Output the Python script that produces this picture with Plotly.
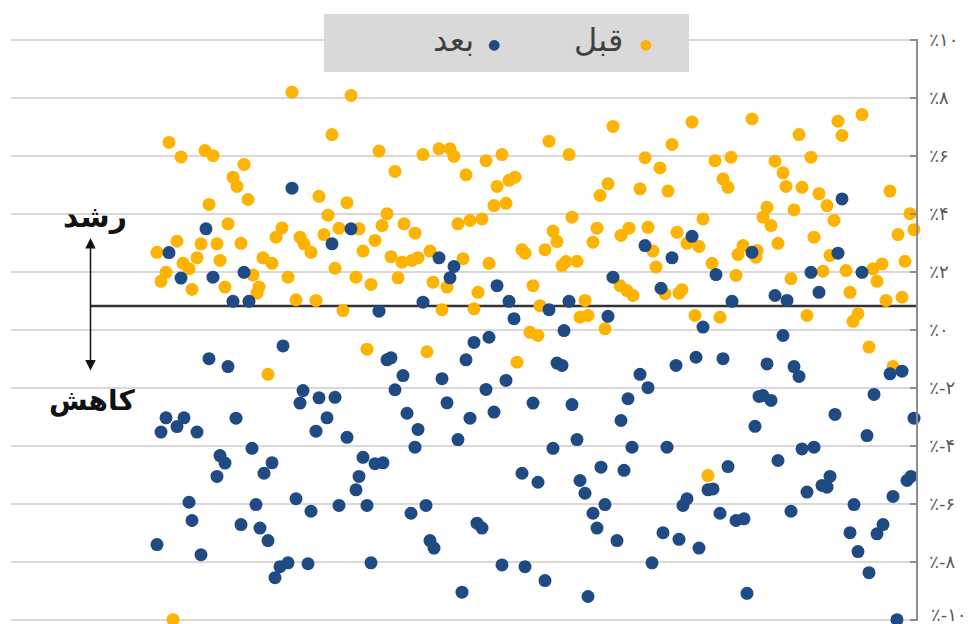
import plotly.graph_objects as go

# ---------------- data ----------------
# "قبل" (before) series: x position (observation), y value in percent
before_x = [
    292, 351, 332, 169, 181, 205, 213, 244, 233, 237, 248, 209, 379, 395, 319, 347, 328, 387, 382, 404,
    228, 282, 276, 339, 359, 324, 300, 304, 311, 375, 363, 391, 402, 177, 201, 217, 241, 157, 197, 183,
    189, 220, 263, 272, 166, 161, 192, 225, 253, 259, 257, 288, 335, 356, 371, 398, 296, 316, 343, 367,
    423, 439, 450, 454, 466, 486, 502, 497, 509, 515, 494, 506, 549, 569, 613, 645, 660, 608, 600, 640,
    415, 458, 470, 482, 572, 553, 557, 545, 522, 525, 597, 593, 621, 629, 648, 653, 656, 412, 418, 430,
    463, 489, 562, 566, 577, 433, 447, 478, 533, 620, 627, 633, 442, 474, 540, 585, 580, 588, 605, 530,
    538, 427,
    692, 752, 672, 799, 838, 862, 842, 715, 731, 775, 811, 723, 728, 783, 786, 802, 819, 827, 668, 890,
    703, 767, 763, 771, 794, 834, 910, 914, 898, 814, 778, 677, 687, 699, 743, 738, 757, 756, 712, 736,
    830, 823, 846, 873, 882, 877, 905, 791, 850, 665, 682, 679, 886, 902, 695, 720, 807, 858, 853, 869,
    268, 173, 517, 708, 893,
]
before_y = [
    8.20, 8.09, 6.74, 6.47, 5.97, 6.19, 6.01, 5.71, 5.27, 4.95, 4.50, 4.33, 6.17, 5.47, 4.61, 4.39, 3.96, 4.01, 3.60, 3.66,
    3.66, 3.52, 3.20, 3.51, 3.49, 3.29, 3.20, 2.97, 2.68, 3.09, 2.72, 2.53, 2.34, 3.06, 2.97, 2.97, 2.99, 2.68, 2.49, 2.30,
    2.11, 2.40, 2.49, 2.30, 1.99, 1.68, 1.40, 1.48, 1.90, 1.48, 1.27, 1.82, 2.13, 1.82, 1.57, 1.80, 1.04, 1.02, 0.67, -0.66,
    6.05, 6.25, 6.25, 5.99, 5.35, 5.84, 6.05, 4.95, 5.16, 5.27, 4.29, 4.37, 6.51, 6.05, 7.02, 5.94, 5.59, 5.04, 4.64, 4.87,
    3.34, 3.66, 3.78, 3.83, 3.89, 3.41, 3.05, 2.77, 2.77, 2.65, 3.51, 3.03, 3.26, 3.51, 3.54, 2.72, 2.17, 2.40, 2.49, 2.72,
    2.46, 2.30, 2.22, 2.36, 2.37, 1.65, 1.48, 1.30, 1.53, 1.53, 1.36, 1.19, 0.70, 0.73, 0.84, 1.02, 0.44, 0.50, 0.04, -0.08,
    -0.19, -0.75,
    7.17, 7.28, 6.40, 6.74, 7.20, 7.43, 6.71, 5.84, 5.96, 5.82, 5.96, 5.21, 4.92, 5.42, 4.95, 4.92, 4.70, 4.29, 4.79, 4.79,
    3.83, 4.23, 3.89, 3.60, 4.14, 3.78, 4.01, 3.46, 3.29, 3.20, 2.99, 3.37, 2.99, 2.88, 2.91, 2.60, 2.74, 2.51, 2.30, 1.88,
    2.57, 2.03, 2.05, 2.11, 2.28, 1.68, 2.37, 1.77, 1.30, 1.25, 1.39, 1.27, 1.02, 1.13, 0.50, 0.44, 0.50, 0.56, 0.30, -0.59,
    -1.53, -9.99, -1.11, -5.02, -1.26,
]

# "بعد" (after) series
after_x = [
    292, 206, 169, 332, 351, 181, 213, 244, 233, 249, 379, 283,
    439, 454, 450, 497, 423, 509, 549, 569, 514, 608, 645, 613, 661, 564, 474, 489,
    842, 692, 672, 752, 838, 716, 811, 862, 819, 732, 775, 787, 703, 783,
    209, 228, 387, 391, 395, 303, 300, 319, 335, 327, 316, 347, 236, 166, 184, 177, 161, 197, 252, 220,
    225, 217, 272, 264, 363, 375, 383, 359, 356, 189, 192, 157, 201, 241, 256, 260, 268, 296, 311, 339,
    367, 280, 288, 275, 308, 371,
    466, 403, 442, 486, 506, 557, 562, 447, 407, 470, 494, 533, 572, 640, 648, 628, 621, 418, 415, 458,
    553, 577, 632, 667, 522, 538, 580, 585, 601, 624, 605, 593, 597, 617, 411, 426, 477, 482, 430, 434,
    502, 525, 545, 462, 588, 652, 663,
    676, 696, 723, 767, 794, 799, 890, 902, 874, 759, 763, 771, 835, 914, 755, 867, 802, 814, 778, 728,
    708, 713, 687, 683, 807, 822, 830, 827, 907, 911, 893, 854, 720, 736, 744, 791, 679, 699, 850, 877,
    883, 858, 869, 747, 897,
]
after_y = [
    4.89, 3.49, 2.67, 2.97, 3.49, 1.79, 1.82, 1.99, 0.99, 0.99, 0.65, -0.55,
    2.49, 2.19, 1.80, 1.53, 0.96, 0.99, 0.70, 0.99, 0.39, 0.47, 2.91, 1.82, 1.44, -0.02, -0.43, -0.25,
    4.52, 3.23, 2.49, 2.68, 2.65, 1.91, 1.99, 1.99, 1.30, 0.99, 1.19, 1.02, 0.10, -0.19,
    -0.99, -1.26, -1.03, -0.96, -2.06, -2.09, -2.52, -2.34, -2.32, -3.03, -3.49, -3.70, -3.04, -3.03, -3.03, -3.33, -3.52, -3.52, -4.08, -4.33,
    -4.59, -5.05, -4.58, -4.94, -4.39, -4.61, -4.58, -5.05, -5.51, -5.94, -6.57, -7.40, -7.75, -6.71, -6.02, -6.83, -7.26, -5.82, -6.25, -6.05,
    -6.05, -8.16, -8.03, -8.54, -8.06, -8.03,
    -1.03, -1.57, -1.68, -2.05, -1.74, -1.14, -1.22, -2.51, -2.87, -3.04, -2.83, -2.52, -2.57, -1.53, -1.99, -2.37, -3.12, -3.43, -4.04, -3.78,
    -4.08, -3.78, -4.04, -4.04, -4.94, -5.25, -5.19, -5.63, -4.73, -4.84, -6.02, -6.32, -6.83, -7.26, -6.32, -6.05, -6.66, -6.83, -7.26, -7.52,
    -8.10, -8.16, -8.64, -9.04, -9.19, -8.03, -6.99,
    -1.22, -0.94, -0.99, -1.17, -1.26, -1.60, -1.51, -1.42, -2.22, -2.29, -2.26, -2.43, -2.91, -3.04, -3.32, -3.64, -4.10, -4.04, -4.50, -4.71,
    -5.51, -5.48, -5.82, -6.05, -5.59, -5.36, -5.05, -5.42, -5.19, -5.05, -5.74, -6.02, -6.32, -6.57, -6.51, -6.25, -7.22, -7.52, -6.99, -7.03,
    -6.71, -7.64, -8.37, -9.08, -9.99,
]

series_names = ["قبل", "بعد"]
tick_values = [10, 8, 6, 4, 2, 0, -2, -4, -6, -8, -10]
tick_labels = ["٪۱۰", "٪۸", "٪۶", "٪۴", "٪۲", "٪۰", "٪-۲", "٪-۴", "٪-۶", "٪-۸", "٪-۱۰"]
reference_level = 0.83          # the black reference line
label_up = "رشد"
label_down = "کاهش"

# ---------------- style ----------------
ORANGE = "#FDB300"
BLUE = "#1F4A84"
W, H = 973, 624
ML, MR, MT, MB = 11, 57, 39, 3
PW = W - ML - MR
PH = H - MT - MB
TICK_FONT = dict(family="DejaVu Sans, Noto Sans, sans-serif", size=18, color="#595959")

def px_to_paper_x(px):
    return (px - ML) / PW

def px_to_paper_y(py):
    return 1 - (py - MT) / PH

fig = go.Figure()
fig.add_trace(go.Scatter(
    x=before_x, y=before_y, mode="markers", name=series_names[0],
    marker=dict(color=ORANGE, size=13, line=dict(width=0)),
    cliponaxis=False, showlegend=False,
))
fig.add_trace(go.Scatter(
    x=after_x, y=after_y, mode="markers", name=series_names[1],
    marker=dict(color=BLUE, size=13, line=dict(width=0)),
    cliponaxis=False, showlegend=False,
))

# reference line
fig.add_shape(type="line", xref="paper", yref="y",
              x0=px_to_paper_x(90), x1=1, y0=reference_level, y1=reference_level,
              line=dict(color="#333333", width=2.5), layer="below")

# legend box (custom, right-to-left)
fig.add_shape(type="rect", xref="paper", yref="paper",
              x0=px_to_paper_x(324), x1=px_to_paper_x(689),
              y0=px_to_paper_y(72), y1=px_to_paper_y(14),
              fillcolor="#D9D9D9", line=dict(width=0), layer="above")

ann = []
legend_font = dict(family="DejaVu Sans, Noto Sans, sans-serif", size=32, color="#404040")
ann.append(dict(xref="paper", yref="paper", x=px_to_paper_x(598), y=px_to_paper_y(40),
                text=series_names[0], showarrow=False, font=legend_font,
                xanchor="center", yanchor="middle"))
ann.append(dict(xref="paper", yref="paper", x=px_to_paper_x(646), y=px_to_paper_y(44),
                text="●", showarrow=False,
                font=dict(family="DejaVu Sans", size=14, color=ORANGE),
                xanchor="center", yanchor="middle"))
ann.append(dict(xref="paper", yref="paper", x=px_to_paper_x(453), y=px_to_paper_y(40),
                text=series_names[1], showarrow=False, font=legend_font,
                xanchor="center", yanchor="middle"))
ann.append(dict(xref="paper", yref="paper", x=px_to_paper_x(494), y=px_to_paper_y(44),
                text="●", showarrow=False,
                font=dict(family="DejaVu Sans", size=14, color=BLUE),
                xanchor="center", yanchor="middle"))

# bottom tick label placed slightly up so it stays inside the page (as in the original)
ann.append(dict(xref="paper", yref="paper", x=px_to_paper_x(929), y=px_to_paper_y(614),
                text=tick_labels[-1], showarrow=False, font=TICK_FONT,
                xanchor="left", yanchor="middle"))

# growth / decline arrow and labels
ann.append(dict(xref="paper", yref="paper", x=px_to_paper_x(90.5), y=px_to_paper_y(238),
                ax=0, ay=134, text="", showarrow=True,
                arrowhead=2, startarrowhead=2, arrowside="end+start",
                arrowsize=1.4, startarrowsize=1.4, arrowwidth=1.5, arrowcolor="#111111"))
ann.append(dict(xref="paper", yref="paper", x=px_to_paper_x(95), y=px_to_paper_y(216),
                text="<b>%s</b>" % label_up, showarrow=False,
                font=dict(family="DejaVu Sans, Noto Sans, sans-serif", size=30, color="#111111"),
                xanchor="center", yanchor="middle"))
ann.append(dict(xref="paper", yref="paper", x=px_to_paper_x(92), y=px_to_paper_y(400),
                text="<b>%s</b>" % label_down, showarrow=False,
                font=dict(family="DejaVu Sans, Noto Sans, sans-serif", size=28, color="#111111"),
                xanchor="center", yanchor="middle"))

fig.update_layout(
    width=W, height=H,
    margin=dict(l=ML, r=MR, t=MT, b=MB, pad=0, autoexpand=False),
    paper_bgcolor="white", plot_bgcolor="white",
    annotations=ann,
    xaxis=dict(range=[ML, W - MR], visible=False, showgrid=False, zeroline=False),
    yaxis=dict(
        range=[-10.035, 10.035], side="right", automargin=False,
        tickmode="array", tickvals=tick_values,
        ticktext=tick_labels[:-1] + [""],
        showgrid=True, gridcolor="#D9D9D9", gridwidth=1.5,
        zeroline=False,
        showline=True, linecolor="#8C8C8C", linewidth=1.5,
        ticks="inside", ticklen=6, tickwidth=1.5, tickcolor="#8C8C8C",
        tickfont=TICK_FONT,
        ticklabelstandoff=8,
    ),
)

fig.write_html("out.html", config={"displayModeBar": False},
               post_script="document.body.style.margin='0';document.body.style.overflow='hidden';")
